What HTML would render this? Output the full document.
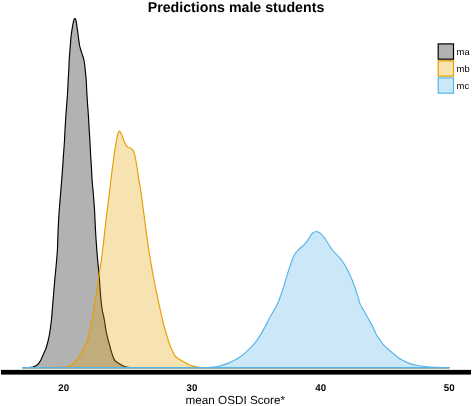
<!DOCTYPE html>
<html><head><meta charset="utf-8"><style>
html,body{margin:0;padding:0;background:#fff;}
body{width:472px;height:406px;overflow:hidden;}
svg{display:block;will-change:transform;text-rendering:geometricPrecision;font-family:"Liberation Sans",sans-serif;}
</style></head><body>
<svg width="472" height="406" viewBox="0 0 472 406">
<rect width="472" height="406" fill="#fff"/>
<text x="236" y="11.5" text-anchor="middle" font-weight="bold" font-size="14.2" fill="#000">Predictions male students</text>
<path d="M22.50,367.60 C23.50,367.60 26.73,367.70 28.50,367.60 C30.27,367.50 31.93,367.27 33.10,367.00 C34.27,366.73 34.72,366.45 35.50,366.00 C36.28,365.55 37.07,365.03 37.80,364.30 C38.53,363.57 39.25,362.63 39.90,361.60 C40.55,360.57 41.05,359.48 41.70,358.10 C42.35,356.72 43.07,354.98 43.80,353.30 C44.53,351.62 45.35,350.22 46.10,348.00 C46.85,345.78 47.72,342.42 48.30,340.00 C48.88,337.58 49.12,336.50 49.60,333.50 C50.08,330.50 50.75,325.92 51.20,322.00 C51.65,318.08 51.92,314.50 52.30,310.00 C52.68,305.50 53.08,300.08 53.50,295.00 C53.92,289.92 54.35,284.50 54.80,279.50 C55.25,274.50 55.77,269.92 56.20,265.00 C56.63,260.08 57.12,254.83 57.40,250.00 C57.68,245.17 57.73,240.28 57.90,236.00 C58.07,231.72 58.17,228.72 58.40,224.30 C58.63,219.88 58.95,214.42 59.30,209.50 C59.65,204.58 60.10,199.72 60.50,194.80 C60.90,189.88 61.33,184.65 61.70,180.00 C62.07,175.35 62.40,171.13 62.70,166.90 C63.00,162.67 63.22,158.70 63.50,154.60 C63.78,150.50 64.15,146.40 64.40,142.30 C64.65,138.20 64.77,134.23 65.00,130.00 C65.23,125.77 65.52,121.13 65.80,116.90 C66.08,112.67 66.40,108.70 66.70,104.60 C67.00,100.50 67.35,96.40 67.60,92.30 C67.85,88.20 68.00,83.78 68.20,80.00 C68.40,76.22 68.63,72.93 68.80,69.60 C68.97,66.27 69.07,62.47 69.20,60.00 C69.33,57.53 69.48,56.43 69.60,54.80 C69.72,53.17 69.77,51.90 69.90,50.20 C70.03,48.50 70.23,46.63 70.40,44.60 C70.57,42.57 70.70,40.05 70.90,38.00 C71.10,35.95 71.32,34.27 71.60,32.30 C71.88,30.33 72.27,28.08 72.60,26.20 C72.93,24.32 73.23,22.27 73.60,21.00 C73.97,19.73 74.42,18.77 74.80,18.60 C75.18,18.43 75.55,18.73 75.90,20.00 C76.25,21.27 76.58,24.15 76.90,26.20 C77.22,28.25 77.53,30.33 77.80,32.30 C78.07,34.27 78.20,35.80 78.50,38.00 C78.80,40.20 79.18,43.42 79.60,45.50 C80.02,47.58 80.50,48.83 81.00,50.50 C81.50,52.17 82.13,54.00 82.60,55.50 C83.07,57.00 83.45,57.92 83.80,59.50 C84.15,61.08 84.43,62.98 84.70,65.00 C84.97,67.02 85.15,69.10 85.40,71.60 C85.65,74.10 85.97,76.55 86.20,80.00 C86.43,83.45 86.57,88.20 86.80,92.30 C87.03,96.40 87.32,100.50 87.60,104.60 C87.88,108.70 88.23,112.67 88.50,116.90 C88.77,121.13 88.95,125.77 89.20,130.00 C89.45,134.23 89.77,138.20 90.00,142.30 C90.23,146.40 90.37,150.50 90.60,154.60 C90.83,158.70 91.15,162.67 91.40,166.90 C91.65,171.13 91.77,175.35 92.10,180.00 C92.43,184.65 93.00,189.88 93.40,194.80 C93.80,199.72 94.20,204.58 94.50,209.50 C94.80,214.42 94.93,219.22 95.20,224.30 C95.47,229.38 95.73,234.52 96.10,240.00 C96.47,245.48 96.90,251.45 97.40,257.20 C97.90,262.95 98.62,268.75 99.10,274.50 C99.58,280.25 99.95,287.12 100.30,291.70 C100.65,296.28 100.88,298.95 101.20,302.00 C101.52,305.05 101.73,307.33 102.20,310.00 C102.67,312.67 103.38,314.67 104.00,318.00 C104.62,321.33 105.42,327.18 105.90,330.00 C106.38,332.82 106.53,333.25 106.90,334.90 C107.27,336.55 107.65,338.25 108.10,339.90 C108.55,341.55 109.15,343.17 109.60,344.80 C110.05,346.43 110.35,348.07 110.80,349.70 C111.25,351.33 111.72,352.95 112.30,354.60 C112.88,356.25 113.57,358.37 114.30,359.60 C115.03,360.83 115.63,361.18 116.70,362.00 C117.77,362.82 119.38,363.75 120.70,364.50 C122.02,365.25 123.22,366.03 124.60,366.50 C125.98,366.97 127.43,367.12 129.00,367.30 C130.57,367.48 80.63,367.55 134.00,367.60 C187.37,367.65 396.67,367.60 449.20,367.60 Z" fill="#000" fill-opacity="0.3" stroke="none"/>
<path d="M22.50,367.60 C23.50,367.60 26.73,367.70 28.50,367.60 C30.27,367.50 31.93,367.27 33.10,367.00 C34.27,366.73 34.72,366.45 35.50,366.00 C36.28,365.55 37.07,365.03 37.80,364.30 C38.53,363.57 39.25,362.63 39.90,361.60 C40.55,360.57 41.05,359.48 41.70,358.10 C42.35,356.72 43.07,354.98 43.80,353.30 C44.53,351.62 45.35,350.22 46.10,348.00 C46.85,345.78 47.72,342.42 48.30,340.00 C48.88,337.58 49.12,336.50 49.60,333.50 C50.08,330.50 50.75,325.92 51.20,322.00 C51.65,318.08 51.92,314.50 52.30,310.00 C52.68,305.50 53.08,300.08 53.50,295.00 C53.92,289.92 54.35,284.50 54.80,279.50 C55.25,274.50 55.77,269.92 56.20,265.00 C56.63,260.08 57.12,254.83 57.40,250.00 C57.68,245.17 57.73,240.28 57.90,236.00 C58.07,231.72 58.17,228.72 58.40,224.30 C58.63,219.88 58.95,214.42 59.30,209.50 C59.65,204.58 60.10,199.72 60.50,194.80 C60.90,189.88 61.33,184.65 61.70,180.00 C62.07,175.35 62.40,171.13 62.70,166.90 C63.00,162.67 63.22,158.70 63.50,154.60 C63.78,150.50 64.15,146.40 64.40,142.30 C64.65,138.20 64.77,134.23 65.00,130.00 C65.23,125.77 65.52,121.13 65.80,116.90 C66.08,112.67 66.40,108.70 66.70,104.60 C67.00,100.50 67.35,96.40 67.60,92.30 C67.85,88.20 68.00,83.78 68.20,80.00 C68.40,76.22 68.63,72.93 68.80,69.60 C68.97,66.27 69.07,62.47 69.20,60.00 C69.33,57.53 69.48,56.43 69.60,54.80 C69.72,53.17 69.77,51.90 69.90,50.20 C70.03,48.50 70.23,46.63 70.40,44.60 C70.57,42.57 70.70,40.05 70.90,38.00 C71.10,35.95 71.32,34.27 71.60,32.30 C71.88,30.33 72.27,28.08 72.60,26.20 C72.93,24.32 73.23,22.27 73.60,21.00 C73.97,19.73 74.42,18.77 74.80,18.60 C75.18,18.43 75.55,18.73 75.90,20.00 C76.25,21.27 76.58,24.15 76.90,26.20 C77.22,28.25 77.53,30.33 77.80,32.30 C78.07,34.27 78.20,35.80 78.50,38.00 C78.80,40.20 79.18,43.42 79.60,45.50 C80.02,47.58 80.50,48.83 81.00,50.50 C81.50,52.17 82.13,54.00 82.60,55.50 C83.07,57.00 83.45,57.92 83.80,59.50 C84.15,61.08 84.43,62.98 84.70,65.00 C84.97,67.02 85.15,69.10 85.40,71.60 C85.65,74.10 85.97,76.55 86.20,80.00 C86.43,83.45 86.57,88.20 86.80,92.30 C87.03,96.40 87.32,100.50 87.60,104.60 C87.88,108.70 88.23,112.67 88.50,116.90 C88.77,121.13 88.95,125.77 89.20,130.00 C89.45,134.23 89.77,138.20 90.00,142.30 C90.23,146.40 90.37,150.50 90.60,154.60 C90.83,158.70 91.15,162.67 91.40,166.90 C91.65,171.13 91.77,175.35 92.10,180.00 C92.43,184.65 93.00,189.88 93.40,194.80 C93.80,199.72 94.20,204.58 94.50,209.50 C94.80,214.42 94.93,219.22 95.20,224.30 C95.47,229.38 95.73,234.52 96.10,240.00 C96.47,245.48 96.90,251.45 97.40,257.20 C97.90,262.95 98.62,268.75 99.10,274.50 C99.58,280.25 99.95,287.12 100.30,291.70 C100.65,296.28 100.88,298.95 101.20,302.00 C101.52,305.05 101.73,307.33 102.20,310.00 C102.67,312.67 103.38,314.67 104.00,318.00 C104.62,321.33 105.42,327.18 105.90,330.00 C106.38,332.82 106.53,333.25 106.90,334.90 C107.27,336.55 107.65,338.25 108.10,339.90 C108.55,341.55 109.15,343.17 109.60,344.80 C110.05,346.43 110.35,348.07 110.80,349.70 C111.25,351.33 111.72,352.95 112.30,354.60 C112.88,356.25 113.57,358.37 114.30,359.60 C115.03,360.83 115.63,361.18 116.70,362.00 C117.77,362.82 119.38,363.75 120.70,364.50 C122.02,365.25 123.22,366.03 124.60,366.50 C125.98,366.97 127.43,367.12 129.00,367.30 C130.57,367.48 80.63,367.55 134.00,367.60 C187.37,367.65 396.67,367.60 449.20,367.60 Z" fill="none" stroke="#000" stroke-width="1.15" stroke-linejoin="round"/>
<path d="M22.50,367.60 C28.75,367.57 52.53,367.58 60.00,367.40 C67.47,367.22 65.37,366.92 67.30,366.50 C69.23,366.08 70.27,365.67 71.60,364.90 C72.93,364.13 74.07,363.23 75.30,361.90 C76.53,360.57 77.77,358.75 79.00,356.90 C80.23,355.05 81.57,352.85 82.70,350.80 C83.83,348.75 84.92,346.65 85.80,344.60 C86.68,342.55 87.38,340.55 88.00,338.50 C88.62,336.45 89.05,334.35 89.50,332.30 C89.95,330.25 90.28,328.25 90.70,326.20 C91.12,324.15 91.48,322.70 92.00,320.00 C92.52,317.30 93.25,313.33 93.80,310.00 C94.35,306.67 94.78,303.33 95.30,300.00 C95.82,296.67 96.20,294.67 96.90,290.00 C97.60,285.33 98.63,277.92 99.50,272.00 C100.37,266.08 101.33,260.30 102.10,254.50 C102.87,248.70 103.45,242.95 104.10,237.20 C104.75,231.45 105.35,225.48 106.00,220.00 C106.65,214.52 107.37,209.38 108.00,204.30 C108.63,199.22 109.22,194.42 109.80,189.50 C110.38,184.58 110.88,179.72 111.50,174.80 C112.12,169.88 113.07,163.38 113.50,160.00 C113.93,156.62 113.87,156.23 114.10,154.50 C114.33,152.77 114.62,151.25 114.90,149.60 C115.18,147.95 115.52,146.25 115.80,144.60 C116.08,142.95 116.30,141.33 116.60,139.70 C116.90,138.07 117.15,136.28 117.60,134.80 C118.05,133.32 118.62,130.80 119.30,130.80 C119.98,130.80 121.00,133.32 121.70,134.80 C122.40,136.28 122.83,138.07 123.50,139.70 C124.17,141.33 124.92,143.32 125.70,144.60 C126.48,145.88 127.48,146.87 128.20,147.40 C128.92,147.93 129.47,147.60 130.00,147.80 C130.53,148.00 130.88,148.18 131.40,148.60 C131.92,149.02 132.57,149.32 133.10,150.30 C133.63,151.28 134.15,152.88 134.60,154.50 C135.05,156.12 135.22,156.62 135.80,160.00 C136.38,163.38 137.30,169.88 138.10,174.80 C138.90,179.72 139.85,184.58 140.60,189.50 C141.35,194.42 141.92,199.22 142.60,204.30 C143.28,209.38 143.98,214.52 144.70,220.00 C145.42,225.48 146.10,231.45 146.90,237.20 C147.70,242.95 148.58,248.75 149.50,254.50 C150.42,260.25 151.65,267.45 152.40,271.70 C153.15,275.95 153.23,276.15 154.00,280.00 C154.77,283.85 155.97,289.88 157.00,294.80 C158.03,299.72 159.10,304.58 160.20,309.50 C161.30,314.42 162.77,320.88 163.60,324.30 C164.43,327.72 164.62,327.98 165.20,330.00 C165.78,332.02 166.47,334.28 167.10,336.40 C167.73,338.52 168.27,340.58 169.00,342.70 C169.73,344.82 170.55,346.98 171.50,349.10 C172.45,351.22 173.75,353.92 174.70,355.40 C175.65,356.88 175.93,357.07 177.20,358.00 C178.47,358.93 180.50,359.95 182.30,361.00 C184.10,362.05 186.20,363.47 188.00,364.30 C189.80,365.13 191.10,365.52 193.10,366.00 C195.10,366.48 197.85,366.93 200.00,367.20 C202.15,367.47 164.47,367.53 206.00,367.60 C247.53,367.67 408.67,367.60 449.20,367.60 Z" fill="#E69F00" fill-opacity="0.3" stroke="none"/>
<path d="M22.50,367.60 C28.75,367.57 52.53,367.58 60.00,367.40 C67.47,367.22 65.37,366.92 67.30,366.50 C69.23,366.08 70.27,365.67 71.60,364.90 C72.93,364.13 74.07,363.23 75.30,361.90 C76.53,360.57 77.77,358.75 79.00,356.90 C80.23,355.05 81.57,352.85 82.70,350.80 C83.83,348.75 84.92,346.65 85.80,344.60 C86.68,342.55 87.38,340.55 88.00,338.50 C88.62,336.45 89.05,334.35 89.50,332.30 C89.95,330.25 90.28,328.25 90.70,326.20 C91.12,324.15 91.48,322.70 92.00,320.00 C92.52,317.30 93.25,313.33 93.80,310.00 C94.35,306.67 94.78,303.33 95.30,300.00 C95.82,296.67 96.20,294.67 96.90,290.00 C97.60,285.33 98.63,277.92 99.50,272.00 C100.37,266.08 101.33,260.30 102.10,254.50 C102.87,248.70 103.45,242.95 104.10,237.20 C104.75,231.45 105.35,225.48 106.00,220.00 C106.65,214.52 107.37,209.38 108.00,204.30 C108.63,199.22 109.22,194.42 109.80,189.50 C110.38,184.58 110.88,179.72 111.50,174.80 C112.12,169.88 113.07,163.38 113.50,160.00 C113.93,156.62 113.87,156.23 114.10,154.50 C114.33,152.77 114.62,151.25 114.90,149.60 C115.18,147.95 115.52,146.25 115.80,144.60 C116.08,142.95 116.30,141.33 116.60,139.70 C116.90,138.07 117.15,136.28 117.60,134.80 C118.05,133.32 118.62,130.80 119.30,130.80 C119.98,130.80 121.00,133.32 121.70,134.80 C122.40,136.28 122.83,138.07 123.50,139.70 C124.17,141.33 124.92,143.32 125.70,144.60 C126.48,145.88 127.48,146.87 128.20,147.40 C128.92,147.93 129.47,147.60 130.00,147.80 C130.53,148.00 130.88,148.18 131.40,148.60 C131.92,149.02 132.57,149.32 133.10,150.30 C133.63,151.28 134.15,152.88 134.60,154.50 C135.05,156.12 135.22,156.62 135.80,160.00 C136.38,163.38 137.30,169.88 138.10,174.80 C138.90,179.72 139.85,184.58 140.60,189.50 C141.35,194.42 141.92,199.22 142.60,204.30 C143.28,209.38 143.98,214.52 144.70,220.00 C145.42,225.48 146.10,231.45 146.90,237.20 C147.70,242.95 148.58,248.75 149.50,254.50 C150.42,260.25 151.65,267.45 152.40,271.70 C153.15,275.95 153.23,276.15 154.00,280.00 C154.77,283.85 155.97,289.88 157.00,294.80 C158.03,299.72 159.10,304.58 160.20,309.50 C161.30,314.42 162.77,320.88 163.60,324.30 C164.43,327.72 164.62,327.98 165.20,330.00 C165.78,332.02 166.47,334.28 167.10,336.40 C167.73,338.52 168.27,340.58 169.00,342.70 C169.73,344.82 170.55,346.98 171.50,349.10 C172.45,351.22 173.75,353.92 174.70,355.40 C175.65,356.88 175.93,357.07 177.20,358.00 C178.47,358.93 180.50,359.95 182.30,361.00 C184.10,362.05 186.20,363.47 188.00,364.30 C189.80,365.13 191.10,365.52 193.10,366.00 C195.10,366.48 197.85,366.93 200.00,367.20 C202.15,367.47 164.47,367.53 206.00,367.60 C247.53,367.67 408.67,367.60 449.20,367.60 Z" fill="none" stroke="#E69F00" stroke-width="1.15" stroke-linejoin="round"/>
<path d="M22.50,367.60 C52.08,367.60 168.92,367.63 200.00,367.60 C231.08,367.57 206.30,367.53 209.00,367.40 C211.70,367.27 214.30,367.08 216.20,366.80 C218.10,366.52 218.57,366.23 220.40,365.70 C222.23,365.17 224.93,364.45 227.20,363.60 C229.47,362.75 231.87,361.70 234.00,360.60 C236.13,359.50 238.03,358.37 240.00,357.00 C241.97,355.63 243.43,354.58 245.80,352.40 C248.17,350.22 251.80,346.73 254.20,343.90 C256.60,341.07 258.42,338.22 260.20,335.40 C261.98,332.58 263.43,329.73 264.90,327.00 C266.37,324.27 267.57,321.67 269.00,319.00 C270.43,316.33 272.12,313.45 273.50,311.00 C274.88,308.55 275.75,307.88 277.30,304.30 C278.85,300.72 281.15,294.42 282.80,289.50 C284.45,284.58 285.88,279.03 287.20,274.80 C288.52,270.57 289.85,266.65 290.70,264.10 C291.55,261.55 291.83,260.78 292.30,259.50 C292.77,258.22 292.97,257.45 293.50,256.40 C294.03,255.35 294.83,254.12 295.50,253.20 C296.17,252.28 296.78,251.68 297.50,250.90 C298.22,250.12 299.02,249.23 299.80,248.50 C300.58,247.77 301.35,247.28 302.20,246.50 C303.05,245.72 304.12,244.65 304.90,243.80 C305.68,242.95 306.17,242.38 306.90,241.40 C307.63,240.42 308.58,239.02 309.30,237.90 C310.02,236.78 310.55,235.57 311.20,234.70 C311.85,233.83 312.37,233.23 313.20,232.70 C314.03,232.17 315.28,231.57 316.20,231.50 C317.12,231.43 317.88,231.90 318.70,232.30 C319.52,232.70 320.30,233.17 321.10,233.90 C321.90,234.63 322.72,235.72 323.50,236.70 C324.28,237.68 325.02,238.62 325.80,239.80 C326.58,240.98 327.42,242.55 328.20,243.80 C328.98,245.05 329.72,246.18 330.50,247.30 C331.28,248.42 332.10,249.52 332.90,250.50 C333.70,251.48 334.52,252.35 335.30,253.20 C336.08,254.05 336.68,254.62 337.60,255.60 C338.52,256.58 340.00,258.17 340.80,259.10 C341.60,260.03 341.52,259.83 342.40,261.20 C343.28,262.57 344.87,265.05 346.10,267.30 C347.33,269.55 348.57,272.03 349.80,274.70 C351.03,277.37 352.27,280.02 353.50,283.30 C354.73,286.58 356.12,291.02 357.20,294.40 C358.28,297.78 359.20,301.40 360.00,303.60 C360.80,305.80 361.08,305.95 362.00,307.60 C362.92,309.25 364.30,311.38 365.50,313.50 C366.70,315.62 367.97,318.03 369.20,320.30 C370.43,322.57 371.70,324.68 372.90,327.10 C374.10,329.52 375.32,332.78 376.40,334.80 C377.48,336.82 378.42,337.78 379.40,339.20 C380.38,340.62 381.32,342.07 382.30,343.30 C383.28,344.53 384.18,345.48 385.30,346.60 C386.42,347.72 387.65,348.82 389.00,350.00 C390.35,351.18 391.92,352.48 393.40,353.70 C394.88,354.92 396.60,356.32 397.90,357.30 C399.20,358.28 399.42,358.63 401.20,359.60 C402.98,360.57 406.05,362.15 408.60,363.10 C411.15,364.05 413.58,364.70 416.50,365.30 C419.42,365.90 422.92,366.37 426.10,366.70 C429.28,367.03 431.75,367.15 435.60,367.30 C439.45,367.45 446.93,367.55 449.20,367.60 Z" fill="#56B4E9" fill-opacity="0.3" stroke="none"/>
<path d="M22.50,367.60 C52.08,367.60 168.92,367.63 200.00,367.60 C231.08,367.57 206.30,367.53 209.00,367.40 C211.70,367.27 214.30,367.08 216.20,366.80 C218.10,366.52 218.57,366.23 220.40,365.70 C222.23,365.17 224.93,364.45 227.20,363.60 C229.47,362.75 231.87,361.70 234.00,360.60 C236.13,359.50 238.03,358.37 240.00,357.00 C241.97,355.63 243.43,354.58 245.80,352.40 C248.17,350.22 251.80,346.73 254.20,343.90 C256.60,341.07 258.42,338.22 260.20,335.40 C261.98,332.58 263.43,329.73 264.90,327.00 C266.37,324.27 267.57,321.67 269.00,319.00 C270.43,316.33 272.12,313.45 273.50,311.00 C274.88,308.55 275.75,307.88 277.30,304.30 C278.85,300.72 281.15,294.42 282.80,289.50 C284.45,284.58 285.88,279.03 287.20,274.80 C288.52,270.57 289.85,266.65 290.70,264.10 C291.55,261.55 291.83,260.78 292.30,259.50 C292.77,258.22 292.97,257.45 293.50,256.40 C294.03,255.35 294.83,254.12 295.50,253.20 C296.17,252.28 296.78,251.68 297.50,250.90 C298.22,250.12 299.02,249.23 299.80,248.50 C300.58,247.77 301.35,247.28 302.20,246.50 C303.05,245.72 304.12,244.65 304.90,243.80 C305.68,242.95 306.17,242.38 306.90,241.40 C307.63,240.42 308.58,239.02 309.30,237.90 C310.02,236.78 310.55,235.57 311.20,234.70 C311.85,233.83 312.37,233.23 313.20,232.70 C314.03,232.17 315.28,231.57 316.20,231.50 C317.12,231.43 317.88,231.90 318.70,232.30 C319.52,232.70 320.30,233.17 321.10,233.90 C321.90,234.63 322.72,235.72 323.50,236.70 C324.28,237.68 325.02,238.62 325.80,239.80 C326.58,240.98 327.42,242.55 328.20,243.80 C328.98,245.05 329.72,246.18 330.50,247.30 C331.28,248.42 332.10,249.52 332.90,250.50 C333.70,251.48 334.52,252.35 335.30,253.20 C336.08,254.05 336.68,254.62 337.60,255.60 C338.52,256.58 340.00,258.17 340.80,259.10 C341.60,260.03 341.52,259.83 342.40,261.20 C343.28,262.57 344.87,265.05 346.10,267.30 C347.33,269.55 348.57,272.03 349.80,274.70 C351.03,277.37 352.27,280.02 353.50,283.30 C354.73,286.58 356.12,291.02 357.20,294.40 C358.28,297.78 359.20,301.40 360.00,303.60 C360.80,305.80 361.08,305.95 362.00,307.60 C362.92,309.25 364.30,311.38 365.50,313.50 C366.70,315.62 367.97,318.03 369.20,320.30 C370.43,322.57 371.70,324.68 372.90,327.10 C374.10,329.52 375.32,332.78 376.40,334.80 C377.48,336.82 378.42,337.78 379.40,339.20 C380.38,340.62 381.32,342.07 382.30,343.30 C383.28,344.53 384.18,345.48 385.30,346.60 C386.42,347.72 387.65,348.82 389.00,350.00 C390.35,351.18 391.92,352.48 393.40,353.70 C394.88,354.92 396.60,356.32 397.90,357.30 C399.20,358.28 399.42,358.63 401.20,359.60 C402.98,360.57 406.05,362.15 408.60,363.10 C411.15,364.05 413.58,364.70 416.50,365.30 C419.42,365.90 422.92,366.37 426.10,366.70 C429.28,367.03 431.75,367.15 435.60,367.30 C439.45,367.45 446.93,367.55 449.20,367.60 Z" fill="none" stroke="#56B4E9" stroke-width="1.15" stroke-linejoin="round"/>
<line x1="22.5" y1="367.6" x2="449.2" y2="367.6" stroke="#56B4E9" stroke-width="1.15" stroke-linecap="round"/>
<rect x="1" y="369.9" width="470" height="4.7" fill="#000"/>
<g font-weight="bold" font-size="9.7" text-anchor="middle" fill="#000">
<text x="63.7" y="390.6">20</text>
<text x="192" y="390.6">30</text>
<text x="320.7" y="390.6">40</text>
<text x="449.2" y="390.6">50</text>
</g>
<text x="235.3" y="403.9" text-anchor="middle" font-size="11.7" fill="#000">mean OSDI Score*</text>
<g stroke-width="1.2">
<rect x="438.2" y="43.9" width="15.3" height="15.3" fill="#000" fill-opacity="0.3" stroke="#000"/>
<rect x="438.2" y="60.8" width="15.3" height="15.3" fill="#E69F00" fill-opacity="0.3" stroke="#E69F00"/>
<rect x="438.2" y="77.9" width="15.3" height="15.3" fill="#56B4E9" fill-opacity="0.3" stroke="#56B4E9"/>
</g>
<g font-size="9.4" fill="#000">
<text x="456.6" y="54.7">ma</text>
<text x="456.6" y="72">mb</text>
<text x="456.6" y="89">mc</text>
</g>
</svg>
</body></html>
